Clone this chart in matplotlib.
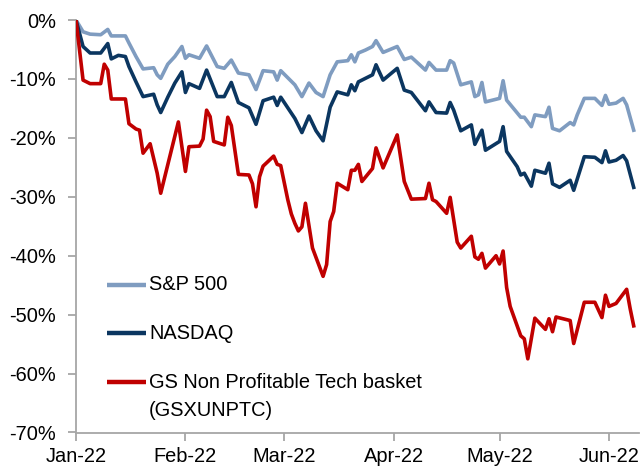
import matplotlib
matplotlib.use("Agg")
import matplotlib.pyplot as plt
import matplotlib.dates as mdates
import pandas as pd

plt.rcParams['font.family'] = ['Liberation Sans', 'DejaVu Sans']

# ---- data (days since 1 Jan 2022, cumulative return in %) ----
sp_day = [0, 2, 4, 7, 9, 10, 14, 15, 17, 19, 22, 23, 24, 26, 28, 30, 31, 32, 35, 37, 40, 42, 44, 46, 49, 51,
          53, 56, 57, 58, 62, 64, 66, 68, 70, 72, 74, 77, 78, 79, 80, 82, 84, 85, 87, 91, 93, 95, 99, 100, 102,
          105, 106, 107, 109, 112, 113, 114, 115, 116, 120, 121, 122, 126, 127, 129, 130, 133, 134, 135, 137,
          140, 141, 142, 144, 147, 149, 150, 151, 153, 155, 156, 158]
sp_val = [0, -2.0, -2.4, -2.5, -1.6, -2.7, -2.7, -3.9, -6.2, -8.3, -8.1, -9.3, -9.9, -7.5, -6.2, -4.5,
          -6.5, -5.9, -6.5, -4.4, -7.9, -8.2, -6.8, -9.0, -9.3, -11.8, -8.6, -8.8, -10.2, -8.6, -11.0, -13.0,
          -10.7, -12.3, -13.0, -9.3, -7.1, -6.9, -5.9, -7.1, -5.6, -5.1, -4.5, -3.5, -5.5, -4.5, -6.7, -6.3,
          -8.5, -7.2, -8.5, -8.5, -6.9, -7.3, -11.0, -10.5, -13.0, -12.7, -10.6, -13.9, -13.3, -10.3, -13.6,
          -16.5, -16.5, -18.1, -16.1, -16.4, -14.8, -18.4, -18.8, -17.4, -17.8, -16.1, -13.3, -13.3, -14.5,
          -12.8, -14.3, -14.1, -13.3, -14.4, -18.7]

nq_day = [0, 2, 4, 7, 9, 10, 12, 14, 15, 17, 19, 22, 23, 24, 26, 28, 30, 31, 32, 35, 37, 40, 42, 44, 46, 49,
          51, 53, 56, 57, 58, 62, 64, 66, 68, 70, 72, 74, 77, 78, 79, 80, 84, 85, 87, 91, 93, 95, 99, 100, 102,
          105, 106, 107, 109, 112, 113, 115, 116, 120, 121, 122, 125, 126, 127, 129, 130, 133, 134, 135, 137,
          140, 141, 144, 147, 149, 150, 151, 153, 155, 156, 158]
nq_val = [0, -4.5, -5.6, -5.6, -4.0, -6.6, -6.0, -6.2, -7.9, -10.5, -13.0, -12.6, -14.4, -15.7, -13.1, -10.7,
          -8.8, -12.3, -10.8, -11.6, -8.5, -13.0, -13.0, -10.6, -14.0, -14.9, -17.7, -13.7, -13.1, -14.5,
          -13.1, -16.7, -19.1, -16.3, -18.8, -20.5, -14.8, -12.2, -12.7, -11.0, -12.0, -10.5, -9.3, -7.6,
          -10.2, -8.2, -11.9, -12.3, -15.4, -13.9, -15.7, -15.8, -14.0, -15.3, -18.8, -17.8, -21.1, -18.7,
          -22.1, -20.6, -18.1, -22.3, -24.9, -26.3, -26.0, -28.2, -25.5, -26.0, -24.3, -27.8, -28.4, -27.2,
          -28.9, -23.2, -23.3, -24.2, -22.2, -24.1, -23.8, -23.0, -23.9, -28.4]

gs_day = [0, 2, 4, 7, 8, 9, 10, 14, 15, 17, 18, 19, 21, 23, 24, 29, 31, 32, 35, 36, 37, 38, 39, 42, 43, 44,
          46, 49, 50, 51, 52, 53, 56, 57, 58, 60, 61, 62, 63, 64, 65, 67, 70, 71, 72, 73, 74, 77, 78, 79, 80,
          81, 84, 85, 87, 91, 93, 95, 99, 100, 101, 102, 105, 106, 108, 109, 112, 113, 114, 115, 116, 119,
          120, 121, 122, 123, 126, 127, 128, 130, 133, 134, 135, 136, 140, 141, 144, 147, 149, 150, 151, 153,
          156, 157, 158]
gs_val = [0, -10.2, -10.8, -10.8, -7.5, -8.5, -13.4, -13.4, -17.6, -18.5, -18.7, -22.6, -21.0, -26.0, -29.4,
          -17.3, -25.7, -21.5, -21.4, -20.2, -15.3, -16.4, -20.6, -21.2, -16.5, -17.9, -26.2, -26.3, -27.8,
          -31.7, -26.6, -24.8, -23.1, -24.5, -24.7, -30.5, -32.9, -34.5, -35.8, -35.1, -31.1, -38.7, -43.5,
          -41.5, -34.2, -32.5, -27.7, -28.8, -25.5, -25.5, -24.5, -27.4, -25.2, -21.7, -25.1, -19.5, -27.4,
          -30.4, -30.3, -27.7, -30.5, -30.8, -32.8, -30.1, -37.7, -38.7, -36.7, -40.2, -40.6, -39.6, -42.1,
          -40.0, -41.4, -39.2, -45.4, -48.6, -53.6, -54.1, -57.5, -50.6, -52.5, -50.7, -52.9, -50.4, -51.0,
          -54.9, -47.9, -47.9, -50.5, -46.7, -48.6, -48.1, -45.7, -49.0, -51.9]

series_labels = ["S&P 500", "NASDAQ", "GS Non Profitable Tech basket\n(GSXUNPTC)"]
series_colors = ["#7F9CC0", "#0B3660", "#C00000"]
y_ticks = [0, -10, -20, -30, -40, -50, -60, -70]

start = pd.Timestamp("2022-01-01")


def to_dates(days):
    return start + pd.to_timedelta(days, unit="D")


fig = plt.figure(figsize=(6.41, 4.69), dpi=100)
ax = fig.add_axes([76 / 641, 1 - 432.5 / 469, (639 - 76) / 641, 412.5 / 469])

lw = 2.6
ax.plot(to_dates(sp_day), sp_val, color=series_colors[0], lw=lw, zorder=3, solid_joinstyle='round')
ax.plot(to_dates(nq_day), nq_val, color=series_colors[1], lw=lw, zorder=3, solid_joinstyle='round')
ax.plot(to_dates(gs_day), gs_val, color=series_colors[2], lw=lw, zorder=3, solid_joinstyle='round')

ax.set_ylim(-70, 0)
ax.set_xlim(start, start + pd.Timedelta(days=159.5))
ax.set_yticks(y_ticks)
ax.set_yticklabels([f"{v}%" for v in y_ticks])
ax.xaxis.set_major_locator(mdates.MonthLocator())
ax.xaxis.set_major_formatter(mdates.DateFormatter("%b-%y"))

for s in ["top", "right"]:
    ax.spines[s].set_visible(False)
for s in ["left", "bottom"]:
    ax.spines[s].set_color("#A6A6A6")
    ax.spines[s].set_linewidth(1.3)

ax.tick_params(axis="both", colors="#A6A6A6", length=5.5, width=1.3,
               labelcolor="black", labelsize=14.4)
ax.tick_params(axis="y", pad=9)
ax.tick_params(axis="x", pad=5)

# legend (manual, matching original layout)
leg_y = [0.3576, 0.2405, 0.1217]
for y, c, lab in zip(leg_y, series_colors, series_labels):
    ax.plot([0.055, 0.124], [y, y], transform=ax.transAxes, color=c, lw=3.2,
            clip_on=False, solid_capstyle='butt')
    lines = lab.split("\n")
    ax.text(0.1297, y, lines[0], transform=ax.transAxes, va="center", ha="left",
            fontsize=14.4, color="black")
    if len(lines) > 1:
        ax.text(0.1297, y - 0.068, lines[1], transform=ax.transAxes, va="center", ha="left",
                fontsize=14.4, color="black")

fig.savefig("out.png", dpi=100)
